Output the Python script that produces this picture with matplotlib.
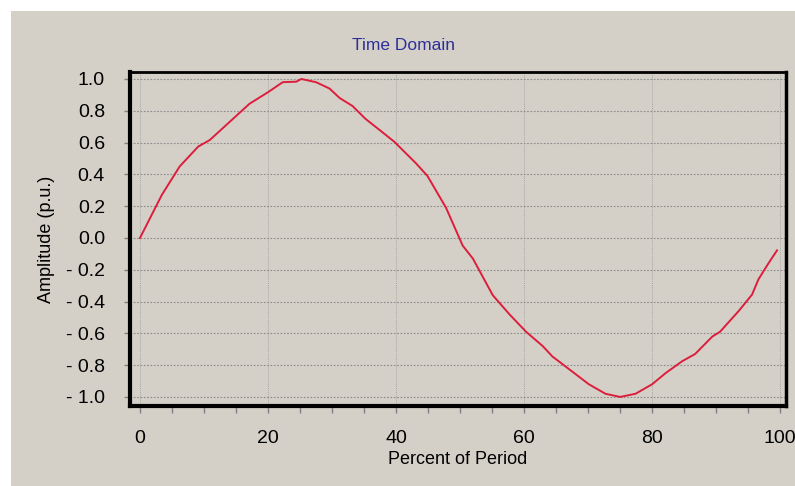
# Time domain waveform, one period
import matplotlib
matplotlib.use("Agg")
import matplotlib.pyplot as plt
from matplotlib.patches import Rectangle
from matplotlib.ticker import MultipleLocator, FuncFormatter

# data
pct = [0, 3.4, 6.2, 9.1, 10.9, 14.0, 17.1, 20, 22.3, 24.4, 25.2, 27.5, 29.6,
       31.2, 33.2, 35.2, 37.4, 39.7, 43.1, 44.9, 47.8, 50.4, 52.0, 55.1, 57.7,
       60.3, 62.9, 64.4, 67.5, 70.1, 72.7, 75.0, 77.4, 80, 82.1, 84.7, 86.7,
       89.4, 90.6, 93.5, 95.6, 96.6, 98.2, 99.5]
amp = [0, 0.27, 0.45, 0.575, 0.616, 0.73, 0.844, 0.917, 0.98, 0.983, 1.0, 0.98,
       0.94, 0.88, 0.83, 0.75, 0.68, 0.606, 0.47, 0.39, 0.19, -0.048, -0.13,
       -0.36, -0.48, -0.59, -0.68, -0.745, -0.84, -0.92, -0.98, -1.0, -0.98,
       -0.92, -0.85, -0.775, -0.73, -0.62, -0.59, -0.46, -0.356, -0.26, -0.157,
       -0.078]

bg = "#d4d0c8"
plt.rcParams["font.family"] = ["Liberation Sans", "DejaVu Sans"]

fig = plt.figure(figsize=(7.95, 4.86), dpi=100, facecolor="white")
# grey panel, white strip top and left
fig.patches.append(Rectangle((11 / 795, 0), 1, 1 - 11 / 486, transform=fig.transFigure,
                             facecolor=bg, edgecolor="none", zorder=-10))

ax = fig.add_axes([130 / 795, 80 / 486, 656 / 795, 334 / 486])
ax.set_facecolor(bg)
ax.plot(pct, amp, color="#dc1e3c", lw=1.4)

ax.set_xlim(-1.56, 100.9)
ax.set_ylim(-1.057, 1.044)
ax.xaxis.set_major_locator(MultipleLocator(20))
ax.xaxis.set_minor_locator(MultipleLocator(5))
ax.yaxis.set_major_locator(MultipleLocator(0.2))


def yfmt(v, pos):
    s = "%.1f" % abs(v)
    return "- " + s if v < -1e-9 else s


ax.yaxis.set_major_formatter(FuncFormatter(yfmt))

ax.grid(axis="y", color="#8c8c8c", ls=(0, (1.5, 1.5)), lw=0.8)
ax.grid(axis="x", color="#a8a8a8", ls=(0, (1, 1)), lw=0.7)

for side, w in [("left", 3), ("bottom", 3), ("top", 2), ("right", 2.5)]:
    ax.spines[side].set_linewidth(w)
    ax.spines[side].set_color("black")

ax.tick_params(axis="x", which="major", length=5, width=1, color="#808080",
               pad=12, labelsize=14)
ax.tick_params(axis="x", which="minor", length=5, width=1, color="#808080")
ax.tick_params(axis="y", which="major", length=4, width=1, color="#808080",
               pad=14, labelsize=14)

ax.set_xlabel("Percent of Period", fontsize=13, labelpad=3)
ax.set_ylabel("Amplitude (p.u.)", fontsize=13, labelpad=8)
fig.text(403 / 795, 1 - 45 / 486, "Time Domain", color="#2e2e9a",
         fontsize=12.5, ha="center", va="center")

fig.savefig("out.png", dpi=100, facecolor=fig.get_facecolor())
